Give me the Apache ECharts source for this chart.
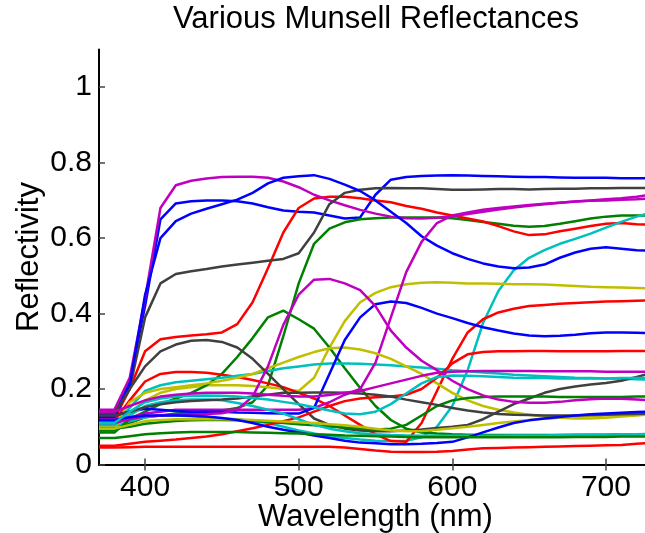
<!DOCTYPE html>
<html>
<head>
<meta charset="utf-8">
<title>Various Munsell Reflectances</title>
<script src="https://cdn.jsdelivr.net/npm/echarts@6/dist/echarts.min.js"></script>
<style>
  html, body { margin: 0; padding: 0; background: #fff; }
  #chart { width: 645px; height: 533px; }
</style>
</head>
<body>
<div id="chart"></div>
<script>
// wavelength samples (nm)
const wavelengths = [370,380,390,400,410,420,430,440,450,460,470,480,490,500,510,520,530,540,550,560,570,580,590,600,610,620,630,640,650,660,670,680,690,700,710,720,730];
const xTicks = [400, 500, 600, 700];
const yTicks = [0, 0.2, 0.4, 0.6, 0.8, 1];

// reflectance curves
const magenta1 = [.145,.145,.23,.44,.68,.74,.752,.758,.762,.763,.763,.76,.75,.735,.715,.70,.687,.675,.665,.657,.653,.652,.654,.658,.664,.67,.676,.681,.686,.69,.694,.697,.70,.703,.706,.71,.715];
const blue1 = [.13,.13,.22,.42,.65,.692,.698,.70,.70,.698,.692,.682,.673,.67,.668,.66,.652,.655,.715,.755,.762,.765,.766,.767,.766,.765,.764,.763,.762,.762,.761,.76,.76,.76,.759,.759,.758];
const blue2 = [.125,.125,.21,.45,.60,.645,.665,.678,.69,.702,.72,.745,.76,.764,.767,.757,.742,.725,.70,.67,.64,.605,.58,.56,.545,.533,.525,.52,.522,.53,.548,.562,.572,.576,.572,.568,.566];
const blue3 = [.13,.13,.14,.148,.145,.142,.14,.14,.14,.138,.137,.136,.135,.135,.15,.24,.33,.39,.425,.432,.428,.415,.40,.388,.375,.364,.355,.347,.342,.34,.341,.344,.348,.35,.35,.349,.348];
const blue4 = [.118,.118,.125,.13,.13,.13,.129,.127,.123,.118,.11,.10,.092,.085,.077,.07,.063,.058,.056,.054,.054,.055,.057,.06,.072,.085,.098,.11,.117,.122,.126,.13,.133,.135,.137,.139,.14];
const gray1 = [.135,.135,.20,.39,.48,.505,.512,.518,.525,.53,.535,.54,.545,.56,.615,.69,.72,.728,.732,.733,.732,.732,.73,.728,.728,.729,.73,.73,.729,.73,.731,.731,.732,.732,.733,.733,.733];
const gray2 = [.135,.135,.20,.26,.30,.318,.328,.33,.325,.31,.28,.24,.20,.16,.122,.105,.095,.09,.088,.088,.09,.093,.097,.10,.105,.12,.14,.16,.175,.19,.20,.207,.212,.216,.222,.232,.243];
const gray3 = [.13,.13,.14,.152,.16,.165,.168,.17,.172,.175,.18,.185,.19,.19,.191,.191,.19,.188,.185,.18,.172,.165,.158,.15,.143,.138,.134,.132,.131,.13,.13,.13,.131,.132,.133,.134,.135];
const red1 = [.12,.12,.20,.30,.332,.338,.342,.345,.35,.372,.43,.52,.615,.68,.705,.71,.71,.706,.70,.695,.685,.678,.668,.66,.652,.644,.632,.618,.608,.61,.618,.625,.632,.638,.64,.637,.635];
const red2 = [.115,.115,.17,.22,.24,.245,.245,.243,.238,.232,.224,.215,.205,.19,.175,.155,.13,.105,.08,.062,.06,.11,.195,.28,.35,.385,.403,.413,.42,.423,.426,.428,.43,.432,.433,.434,.435];
const red3 = [.05,.05,.055,.06,.063,.066,.07,.074,.08,.088,.096,.105,.115,.125,.14,.155,.168,.175,.178,.18,.185,.20,.23,.268,.292,.298,.30,.30,.301,.301,.30,.30,.30,.30,.301,.301,.301];
const red4 = [.045,.045,.046,.047,.047,.047,.047,.047,.047,.047,.047,.047,.047,.047,.047,.047,.045,.041,.037,.034,.033,.033,.034,.036,.04,.043,.044,.045,.046,.047,.048,.049,.05,.051,.052,.055,.057];
const green1 = [.09,.09,.11,.125,.13,.135,.138,.14,.143,.15,.165,.21,.34,.48,.585,.625,.642,.65,.653,.655,.655,.655,.655,.653,.648,.643,.638,.633,.63,.632,.638,.645,.652,.657,.66,.66,.66];
const green2 = [.085,.085,.12,.14,.16,.175,.19,.21,.24,.285,.335,.39,.408,.385,.36,.31,.255,.203,.155,.118,.095,.085,.082,.08,.079,.078,.078,.078,.078,.078,.078,.079,.079,.079,.08,.08,.08];
const green3 = [.095,.095,.10,.108,.112,.115,.117,.118,.118,.117,.115,.113,.11,.107,.104,.101,.098,.095,.093,.095,.105,.13,.155,.17,.176,.179,.18,.18,.18,.18,.179,.179,.179,.179,.179,.18,.18];
const green4 = [.07,.07,.075,.08,.083,.085,.086,.086,.086,.086,.085,.084,.083,.082,.08,.079,.077,.076,.075,.074,.073,.072,.072,.072,.072,.072,.072,.072,.072,.072,.072,.073,.073,.073,.074,.074,.075];
const cyan1 = [.10,.10,.115,.125,.13,.13,.128,.125,.122,.12,.115,.11,.10,.09,.082,.075,.07,.066,.063,.062,.063,.072,.10,.155,.25,.375,.46,.515,.548,.568,.585,.598,.612,.628,.643,.657,.668];
const cyan2 = [.105,.105,.15,.195,.21,.218,.222,.226,.23,.235,.24,.248,.255,.26,.265,.268,.268,.267,.265,.263,.26,.257,.254,.25,.247,.244,.241,.238,.236,.234,.232,.23,.229,.228,.227,.226,.225];
const cyan3 = [.105,.105,.13,.155,.165,.17,.172,.172,.17,.163,.155,.145,.135,.12,.105,.095,.088,.083,.08,.078,.077,.076,.076,.076,.076,.076,.076,.077,.077,.077,.078,.078,.079,.079,.08,.08,.081];
const cyan4 = [.11,.11,.14,.165,.175,.18,.182,.183,.182,.18,.176,.172,.166,.16,.152,.143,.135,.133,.14,.16,.188,.215,.232,.236,.235,.234,.232,.23,.229,.229,.228,.228,.228,.228,.229,.229,.23];
const magenta2 = [.12,.12,.125,.135,.14,.145,.145,.145,.145,.145,.145,.145,.145,.145,.15,.165,.185,.20,.27,.39,.51,.59,.64,.66,.668,.675,.68,.684,.688,.691,.694,.697,.699,.70,.702,.703,.705];
const magenta3 = [.11,.11,.12,.128,.13,.132,.133,.134,.136,.145,.18,.26,.37,.45,.49,.492,.48,.462,.42,.355,.31,.275,.25,.222,.20,.183,.172,.166,.164,.164,.166,.17,.173,.175,.174,.172,.17];
const magenta4 = [.14,.14,.155,.17,.18,.185,.188,.19,.19,.19,.188,.185,.182,.18,.18,.184,.19,.195,.205,.215,.225,.235,.243,.246,.247,.248,.248,.248,.248,.247,.247,.247,.247,.246,.246,.246,.246];
const yellow1 = [.10,.10,.135,.17,.19,.20,.205,.21,.21,.21,.208,.205,.20,.195,.23,.31,.38,.43,.455,.47,.478,.482,.483,.482,.48,.48,.479,.478,.478,.477,.475,.473,.471,.47,.469,.468,.467];
const yellow2 = [.10,.10,.165,.19,.20,.205,.21,.215,.222,.23,.24,.255,.27,.285,.298,.308,.31,.305,.295,.28,.26,.24,.215,.19,.17,.155,.145,.138,.132,.127,.124,.122,.122,.124,.127,.13,.133];
const yellow3 = [.095,.095,.105,.115,.118,.12,.12,.12,.12,.119,.118,.116,.114,.112,.11,.107,.104,.10,.095,.09,.088,.089,.092,.096,.10,.105,.11,.114,.118,.121,.124,.126,.128,.13,.132,.134,.135];

// matlab-ish line colours
const colors = {
  b: '#0000ff', g: '#008000', r: '#ff0000', c: '#00bfbf',
  m: '#bf00bf', y: '#bfbf00', k: '#404040'
};

const curves = [
  ['b', blue1], ['g', green1], ['r', red1], ['c', cyan1], ['m', magenta1], ['y', yellow1], ['k', gray1],
  ['b', blue2], ['g', green2], ['r', red2], ['c', cyan2], ['m', magenta2], ['y', yellow2], ['k', gray2],
  ['b', blue3], ['g', green3], ['r', red3], ['c', cyan3], ['m', magenta3], ['y', yellow3], ['k', gray3],
  ['b', blue4], ['g', green4], ['r', red4], ['c', cyan4], ['m', magenta4]
];

const font = '"Liberation Sans", Arial, Helvetica, sans-serif';

const chart = echarts.init(document.getElementById('chart'));

const series = curves.map(([c, vals], i) => ({
  name: 'curve' + i,
  type: 'line',
  showSymbol: false,
  silent: true,
  clip: true,
  lineStyle: { color: colors[c], width: 2.5 },
  itemStyle: { color: colors[c] },
  data: wavelengths.map((w, j) => [w, vals[j]])
}));

const tickStyle = { color: '#444', width: 1.5 };
const lineStyle = { color: '#000', width: 2 };

const option = {
  animation: false,
  backgroundColor: '#fff',
  title: {
    text: 'Various Munsell Reflectances',
    left: 376,
    top: 4,
    padding: 0,
    textAlign: 'center',
    textStyle: { fontFamily: font, fontSize: 31, fontWeight: 'normal', color: '#000' }
  },
  // keep the plot box where it is: no auto-fitting of labels
  grid: { left: 99, top: 49.5, width: 553, height: 415, outerBoundsMode: 'none', containLabel: false },
  xAxis: [
    {
      type: 'value', min: 370, max: 730, position: 'bottom',
      axisLine: { show: true, lineStyle: lineStyle },
      axisTick: { show: true, inside: true, length: 6, customValues: xTicks, lineStyle: tickStyle },
      axisLabel: { customValues: xTicks, color: '#000', fontSize: 30, fontFamily: font, margin: 8 },
      splitLine: { show: false },
      name: 'Wavelength (nm)', nameLocation: 'middle', nameGap: 37, nameMoveOverlap: false,
      nameTextStyle: { color: '#000', fontSize: 31, fontFamily: font }
    },
    {
      type: 'value', min: 370, max: 730, position: 'top',
      axisLine: { show: true, lineStyle: lineStyle },
      axisTick: { show: true, inside: true, length: 6, customValues: xTicks, lineStyle: tickStyle },
      axisLabel: { show: false },
      splitLine: { show: false }
    }
  ],
  yAxis: [
    {
      type: 'value', min: 0, max: 1.1, position: 'left',
      axisLine: { show: true, lineStyle: lineStyle },
      axisTick: { show: true, inside: true, length: 6, customValues: yTicks, lineStyle: tickStyle },
      axisLabel: { customValues: yTicks, color: '#000', fontSize: 30, fontFamily: font, margin: 7,
        formatter: v => String(v) },
      splitLine: { show: false },
      name: 'Reflectivity', nameLocation: 'middle', nameGap: 54, nameMoveOverlap: false,
      nameTextStyle: { color: '#000', fontSize: 31, fontFamily: font }
    },
    {
      type: 'value', min: 0, max: 1.1, position: 'right',
      axisLine: { show: true, lineStyle: lineStyle },
      axisTick: { show: true, inside: true, length: 6, customValues: yTicks, lineStyle: tickStyle },
      axisLabel: { show: false },
      splitLine: { show: false }
    }
  ],
  series: series
};

chart.setOption(option);

window.addEventListener('resize', () => chart.resize());
</script>
</body>
</html>
